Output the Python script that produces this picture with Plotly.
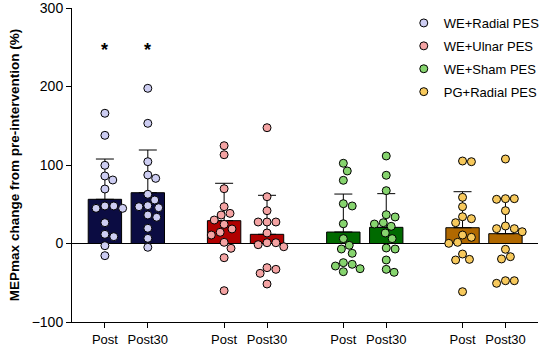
import numpy as np
import plotly.graph_objects as go

groups = ["WE+Radial PES", "WE+Ulnar PES", "WE+Sham PES", "PG+Radial PES"]
timepoints = ["Post", "Post30"]

bar_colors = ["#0b0c42", "#b00000", "#006a00", "#b06800"]
dot_colors = ["#cdcdf2", "#f4a3a3", "#86d46e", "#f7c95c"]

# mean and SD (upper bar) per group, [Post, Post30]
means = [[56.3, 64.7], [29.1, 11.7], [14.6, 20.6], [20.1, 12.5]]
sds = [[51.3, 54.4], [47.6, 49.7], [48.4, 42.9], [45.9, 45.1]]

# individual values per group, [Post, Post30]
points = [
    [
        [165.9, 137.8, 99.6, 80.9, 86.0, 69.4, 47.8, 44.8, 44.8, 47.8, 26.5, 8.7, 11.7, -2.8, -15.5],
        [197.7, 153.1, 104.2, 87.3, 83.0, 62.7, 55.4, 48.2, 46.9, 45.6, 36.3, 33.4, 19.4, 6.6, -4.8],
    ],
    [
        [124.6, 113.1, 69.8, 46.9, 36.3, 38.4, 29.9, 18.5, 24.4, 10.8, 14.3, 1.5, -6.1, -18.1, -60.1],
        [147.5, 59.6, 41.8, 27.4, 27.4, 27.4, 13.4, 1.0, -1.5, -4.1, 1.0, -32.9, -38.0, -30.8, -51.6],
    ],
    [
        [102.2, 92.4, 80.5, 47.8, 50.7, 25.2, 6.2, -7.0, -2.3, -12.5, -24.4, -26.5, -32.1, -28.7, -35.9],
        [111.5, 86.9, 67.3, 36.7, 33.8, 24.8, 21.9, 26.5, 13.4, 6.2, -5.7, -7.0, -21.0, -32.9, -36.7],
    ],
    [
        [105.1, 104.2, 58.8, 46.9, 34.1, 31.6, 26.5, 10.8, 7.9, 1.5, 0.2, -13.4, -21.0, -20.2, -61.4],
        [107.6, 56.3, 57.1, 57.1, 41.8, 18.9, 15.0, 18.9, 22.3, -7.4, -16.8, -19.7, -50.7, -47.4, -47.4],
    ],
]

sig_labels = [["*", "*"], ["", ""], ["", ""], ["", ""]]
sig_y = 246

# layout constants (pixels)
W, H = 550, 352
ML, MR, MT, MB = 72, 5, 8, 30
YR = [-100, 300]
XR = [-0.456, 3.453]
plot_w = W - ML - MR
plot_h = H - MT - MB
px_per_x = plot_w / (XR[1] - XR[0])
px_per_y = plot_h / (YR[1] - YR[0])
OFFSET = 0.18
BAR_W = 0.28
DIAM = 9.0


def beeswarm(vals):
    """Return x offsets (data units) so that circles of DIAM px do not overlap."""
    vals = np.asarray(vals, dtype=float)
    order = np.argsort(-vals)
    placed = []
    offs = np.zeros(len(vals))
    cands = [0.0]
    for k in range(1, 60):
        cands += [k * 1.0, -k * 1.0]
    for i in order:
        ypx = vals[i] * px_per_y
        for c in cands:
            ok = True
            for (xp, yp) in placed:
                if (xp - c) ** 2 + (yp - ypx) ** 2 < (DIAM - 0.5) ** 2:
                    ok = False
                    break
            if ok:
                offs[i] = c
                placed.append((c, ypx))
                break
    return offs / px_per_x


fig = go.Figure()
tickvals, ticktext = [], []
for g, name in enumerate(groups):
    xs = [g - OFFSET, g + OFFSET]
    tickvals += xs
    ticktext += timepoints
    fig.add_trace(go.Bar(
        x=xs, y=means[g], width=BAR_W,
        marker=dict(color=bar_colors[g], line=dict(color="black", width=1)),
        error_y=dict(type="data", symmetric=False, array=sds[g], arrayminus=[0, 0],
                     color="black", thickness=1, width=9),
        showlegend=False, hoverinfo="skip",
    ))

for g, name in enumerate(groups):
    xs_all, ys_all = [], []
    for t in range(2):
        x0 = g - OFFSET if t == 0 else g + OFFSET
        offs = beeswarm(points[g][t])
        xs_all += list(x0 + offs)
        ys_all += points[g][t]
    fig.add_trace(go.Scatter(
        x=xs_all, y=ys_all, mode="markers", name=name, legendgroup=name,
        marker=dict(size=8, color=dot_colors[g], line=dict(color="black", width=1)),
    ))

for g in range(len(groups)):
    for t in range(2):
        if sig_labels[g][t]:
            x0 = g - OFFSET if t == 0 else g + OFFSET
            fig.add_annotation(x=x0, y=sig_y, text="<b>" + sig_labels[g][t] + "</b>",
                               showarrow=False, font=dict(size=18, color="black"),
                               yanchor="middle")

fig.update_layout(
    width=W, height=H,
    margin=dict(l=ML, r=MR, t=MT, b=MB),
    plot_bgcolor="white", paper_bgcolor="white",
    font=dict(family="Liberation Sans, Arial, sans-serif", size=13, color="black"),
    barmode="overlay",
    legend=dict(x=0.712, y=1.0, xanchor="left", yanchor="top",
                font=dict(size=13), tracegroupgap=3, bgcolor="rgba(0,0,0,0)"),
    xaxis=dict(range=XR, tickvals=tickvals, ticktext=ticktext, showline=True,
               linecolor="black", linewidth=1, ticks="outside", ticklen=5,
               tickcolor="black", showgrid=False, zeroline=False, automargin=False,
               tickfont=dict(size=13), ticklabeloverflow="allow"),
    yaxis=dict(range=YR, tickvals=[-100, 0, 100, 200, 300], showline=True,
               linecolor="black", linewidth=1, ticks="outside", ticklen=5,
               tickcolor="black", showgrid=False, zeroline=True, zerolinecolor="black",
               zerolinewidth=1.2, automargin=False, tickfont=dict(size=14),
               ticklabeloverflow="allow",
               title=dict(text="<b>MEPmax change from pre-intervention (%)</b>",
                          font=dict(size=13.5), standoff=8)),
)

fig.write_html("out.html", config={"displayModeBar": False},
               post_script="document.body.style.margin='0';document.body.style.padding='0';")
